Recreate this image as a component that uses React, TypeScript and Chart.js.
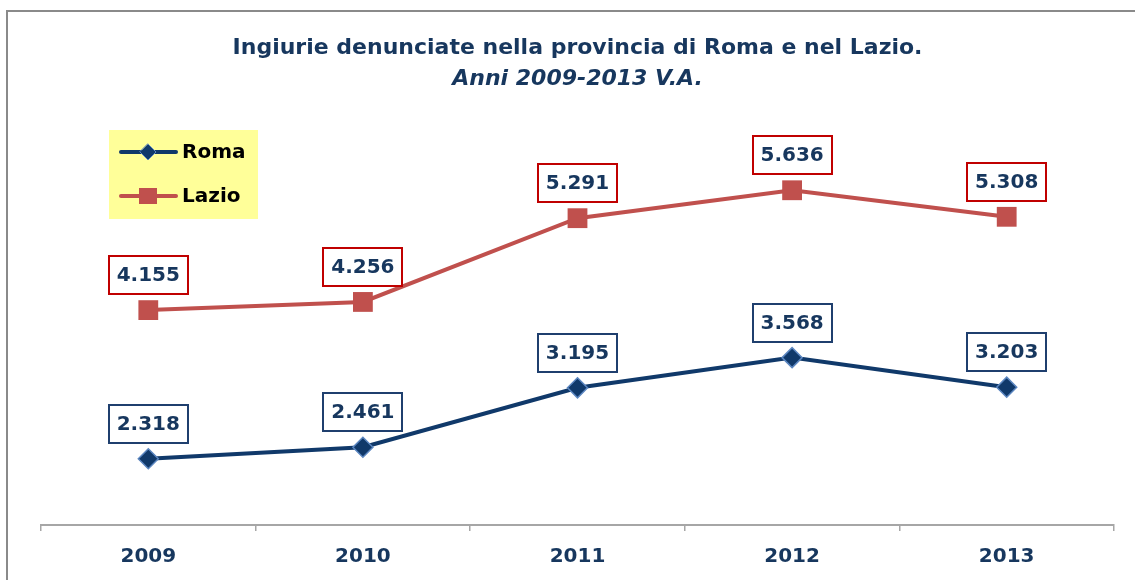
import React, { useEffect, useRef } from 'react';
import { Chart, registerables } from 'chart.js';

Chart.register(...registerables);

const years = ['2009', '2010', '2011', '2012', '2013'];
const romaValues = [2318, 2461, 3195, 3568, 3203];
const lazioValues = [4155, 4256, 5291, 5636, 5308];
const seriesNames = ['Roma', 'Lazio'];
const titleText = 'Ingiurie denunciate nella provincia di Roma e nel Lazio.';
const subtitleText = 'Anni 2009-2013 V.A.';
const yMin = 1500;
const yMax = 6000;

const FONT = "'DejaVu Sans', sans-serif";
const NAVY = '#17375E';
const ROMA_COLOR = '#10396A';
const ROMA_EDGE = '#5B86C0';
const LAZIO_COLOR = '#C0504D';
const ROMA_BOX = '#1F3F6E';
const LAZIO_BOX = '#C00000';
const AXIS_GRAY = '#A6A6A6';

function fmt(v: number): string {
  const th = Math.floor(v / 1000);
  const rest = String(v % 1000).padStart(3, '0');
  return th > 0 ? `${th}.${rest}` : String(v);
}

const boxLabelPlugin = {
  id: 'boxLabels',
  afterDatasetsDraw(chart: any) {
    const ctx = chart.ctx as CanvasRenderingContext2D;
    chart.data.datasets.forEach((ds: any, di: number) => {
      const meta = chart.getDatasetMeta(di);
      meta.data.forEach((pt: any, i: number) => {
        const text = fmt(ds.data[i]);
        ctx.save();
        ctx.font = `bold 20px ${FONT}`;
        const tw = ctx.measureText(text).width;
        const w = Math.round(tw + 16);
        const h = 38;
        const cx = pt.x;
        const cy = pt.y - 35;
        const left = Math.round(cx - w / 2);
        const top = Math.round(cy - h / 2);
        ctx.fillStyle = '#ffffff';
        ctx.fillRect(left, top, w, h);
        ctx.lineWidth = 2;
        ctx.strokeStyle = ds.boxColor;
        ctx.strokeRect(left, top, w, h);
        ctx.fillStyle = NAVY;
        ctx.textAlign = 'center';
        ctx.textBaseline = 'middle';
        ctx.fillText(text, cx, cy + 1);
        ctx.restore();
      });
    });
  },
};

const legendBoxPlugin = {
  id: 'legendBox',
  afterDraw(chart: any) {
    const ctx = chart.ctx as CanvasRenderingContext2D;
    ctx.save();
    ctx.fillStyle = '#FFFF99';
    ctx.fillRect(101, 118, 149, 89);
    const rows = [
      { name: seriesNames[0], y: 140, color: ROMA_COLOR, style: 'diamond' },
      { name: seriesNames[1], y: 184, color: LAZIO_COLOR, style: 'square' },
    ];
    rows.forEach((r) => {
      ctx.strokeStyle = r.color;
      ctx.lineWidth = 4;
      ctx.lineCap = 'round';
      ctx.beginPath();
      ctx.moveTo(113, r.y);
      ctx.lineTo(168, r.y);
      ctx.stroke();
      ctx.fillStyle = r.color;
      if (r.style === 'diamond') {
        ctx.beginPath();
        ctx.moveTo(140, r.y - 8);
        ctx.lineTo(148, r.y);
        ctx.lineTo(140, r.y + 8);
        ctx.lineTo(132, r.y);
        ctx.closePath();
        ctx.fill();
        ctx.lineWidth = 1;
        ctx.strokeStyle = ROMA_EDGE;
        ctx.stroke();
      } else {
        ctx.fillRect(131, r.y - 8, 18, 16);
      }
      ctx.fillStyle = '#000000';
      ctx.font = `bold 20px ${FONT}`;
      ctx.textAlign = 'left';
      ctx.textBaseline = 'middle';
      ctx.fillText(r.name, 174, r.y + 1);
    });
    ctx.restore();
  },
};

export default function App() {
  const canvasRef = useRef<HTMLCanvasElement | null>(null);

  useEffect(() => {
    if (!canvasRef.current) return;
    const chart = new Chart(canvasRef.current, {
      type: 'line',
      data: {
        labels: years,
        datasets: [
          {
            label: seriesNames[0],
            data: romaValues,
            borderColor: ROMA_COLOR,
            backgroundColor: ROMA_COLOR,
            borderWidth: 4,
            pointStyle: 'rectRot',
            pointRadius: 10,
            pointBackgroundColor: ROMA_COLOR,
            pointBorderColor: ROMA_EDGE,
            pointBorderWidth: 1.5,
            tension: 0,
            clip: false,
            boxColor: ROMA_BOX,
          } as any,
          {
            label: seriesNames[1],
            data: lazioValues,
            borderColor: LAZIO_COLOR,
            backgroundColor: LAZIO_COLOR,
            borderWidth: 4,
            pointStyle: 'rect',
            pointRadius: 14,
            pointBackgroundColor: LAZIO_COLOR,
            pointBorderColor: LAZIO_COLOR,
            pointBorderWidth: 0,
            tension: 0,
            clip: false,
            boxColor: LAZIO_BOX,
          } as any,
        ],
      },
      options: {
        animation: false,
        responsive: true,
        maintainAspectRatio: false,
        layout: { padding: { left: 33, right: 30, top: 0, bottom: 25 } },
        plugins: {
          legend: { display: false },
          tooltip: { enabled: false },
          title: {
            display: true,
            text: titleText,
            color: NAVY,
            font: { family: FONT, size: 22, weight: 'bold', lineHeight: 1.2 },
            padding: { top: 23, bottom: 0 },
          },
          subtitle: {
            display: true,
            text: subtitleText,
            color: NAVY,
            font: { family: FONT, size: 22, weight: 'bold', style: 'italic', lineHeight: 1.2 },
            padding: { top: 5, bottom: 68 },
          },
        },
        scales: {
          x: {
            offset: true,
            grid: {
              display: true,
              offset: true,
              drawOnChartArea: false,
              drawTicks: true,
              tickLength: 6,
              color: AXIS_GRAY,
              lineWidth: 1.5,
            },
            border: { display: true, color: AXIS_GRAY, width: 2 },
            ticks: {
              color: NAVY,
              font: { family: FONT, size: 20, weight: 'bold' },
              padding: 14,
            },
          },
          y: { display: false, min: yMin, max: yMax },
        },
      },
      plugins: [boxLabelPlugin, legendBoxPlugin],
    });
    return () => chart.destroy();
  }, []);

  return (
    <div
      style={{
        position: 'fixed',
        left: 0,
        top: 0,
        width: 1135,
        height: 580,
        overflow: 'hidden',
        background: '#ffffff',
      }}
    >
      <div
        style={{
          position: 'absolute',
          left: 6,
          top: 10,
          width: 1136,
          height: 596,
          border: '2px solid #8A8A8A',
          background: '#ffffff',
        }}
      >
        <div style={{ position: 'relative', width: 1136, height: 596 }}>
          <canvas ref={canvasRef} />
        </div>
      </div>
    </div>
  );
}
